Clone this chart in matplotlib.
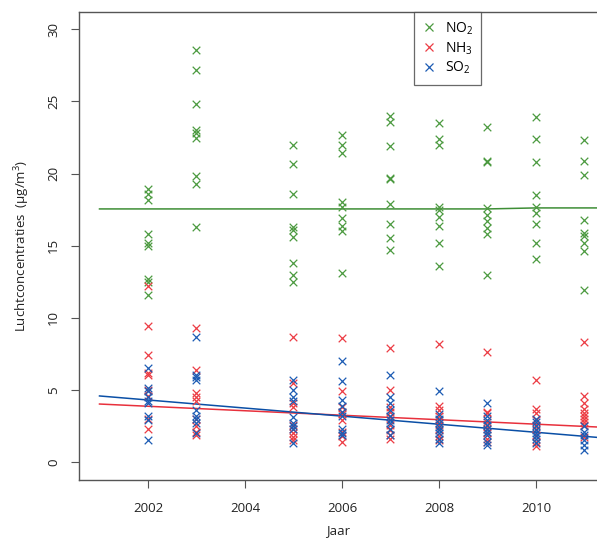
import matplotlib
matplotlib.use("Agg")
import matplotlib.pyplot as plt
from matplotlib.lines import Line2D

plt.rcParams['font.family'] = ['Open Sans', 'DejaVu Sans']
plt.rcParams['mathtext.fontset'] = 'custom'
plt.rcParams['mathtext.rm'] = 'Open Sans'
plt.rcParams['mathtext.it'] = 'Open Sans:italic'

years = [2002, 2003, 2005, 2006, 2007, 2008, 2009, 2010, 2011]

no2 = [
    [18.9, 18.6, 18.2, 15.8, 15.2, 15.0, 12.7, 12.5, 11.6],
    [28.6, 27.2, 24.8, 23.0, 22.8, 22.5, 19.8, 19.3, 16.3],
    [22.0, 20.7, 18.6, 16.3, 16.1, 15.6, 13.8, 13.0, 12.5],
    [22.7, 22.0, 21.4, 18.0, 17.7, 16.9, 16.4, 16.0, 13.1],
    [24.0, 23.6, 21.9, 19.7, 19.6, 17.9, 16.5, 15.5, 14.7],
    [23.5, 22.4, 22.0, 17.7, 17.5, 17.0, 16.4, 15.2, 13.6],
    [23.2, 20.9, 20.8, 17.6, 17.1, 16.7, 16.2, 15.8, 13.0],
    [23.9, 22.4, 20.8, 18.5, 17.7, 17.3, 16.5, 15.2, 14.1],
    [22.3, 20.9, 19.9, 16.8, 15.9, 15.7, 15.2, 14.6, 11.9],
]
nh3 = [
    [12.2, 9.4, 7.4, 6.2, 6.0, 5.0, 4.6, 3.0, 2.3],
    [9.3, 6.4, 4.8, 4.5, 4.2, 3.0, 2.5, 2.1, 1.9],
    [8.7, 5.5, 4.1, 3.8, 2.6, 2.3, 2.0, 1.7, 1.5],
    [8.6, 4.9, 3.8, 3.5, 3.3, 2.9, 2.1, 1.8, 1.4],
    [7.9, 5.0, 3.8, 3.5, 3.1, 2.6, 2.2, 1.9, 1.6],
    [8.2, 3.9, 3.6, 3.2, 2.9, 2.6, 2.3, 1.8, 1.5],
    [7.6, 3.5, 3.4, 2.8, 2.5, 2.3, 2.0, 1.6, 1.4],
    [5.7, 3.7, 3.4, 2.9, 2.6, 2.3, 1.9, 1.4, 1.1],
    [8.3, 4.6, 4.1, 3.7, 3.4, 3.2, 3.0, 2.8, 2.6, 1.7],
]
so2 = [
    [6.5, 5.1, 4.9, 4.5, 4.2, 4.1, 3.2, 2.9, 1.5],
    [8.7, 6.0, 5.9, 5.7, 3.6, 3.2, 3.0, 2.7, 2.0],
    [5.7, 5.0, 4.5, 4.2, 3.1, 2.7, 2.5, 2.3, 1.3],
    [7.0, 5.6, 4.3, 3.9, 3.5, 3.2, 2.3, 2.0, 1.9],
    [6.0, 4.5, 4.1, 3.6, 3.2, 2.9, 2.7, 2.3, 1.9],
    [4.9, 3.3, 3.0, 2.7, 2.4, 2.2, 2.0, 1.6, 1.3],
    [4.1, 3.2, 2.9, 2.6, 2.3, 2.1, 1.9, 1.4, 1.2],
    [3.0, 2.8, 2.5, 2.2, 2.0, 1.8, 1.6, 1.3],
    [2.5, 2.1, 1.9, 1.5, 1.2, 0.8],
]

no2_fit_years = [2001, 2002, 2003, 2004, 2005, 2006, 2007, 2008, 2009, 2010, 2011.5]
no2_fit = [17.55, 17.55, 17.55, 17.55, 17.55, 17.55, 17.55, 17.55, 17.55, 17.62, 17.62]
trend_years = [2001, 2011.5]
nh3_trend = [4.02, 2.39]
so2_trend = [4.58, 1.64]

c_no2 = '#4c9a40'
c_nh3 = '#ec3c44'
c_so2 = '#1d5cb4'
l_no2 = '#3e8e36'
l_nh3 = '#e8303c'
l_so2 = '#0a4fa6'

W, H = 597, 540
fig = plt.figure(figsize=(W / 100, H / 100), dpi=100)
ax = fig.add_axes([79 / W, 60 / H, (W - 79) / W, 468 / H])

def expand(vals):
    xs, ys = [], []
    for yr, v in zip(years, vals):
        xs += [yr] * len(v)
        ys += v
    return xs, ys

for data, col in [(no2, c_no2), (nh3, c_nh3), (so2, c_so2)]:
    xs, ys = expand(data)
    ax.scatter(xs, ys, marker='x', s=30, c=col, linewidths=0.9, zorder=3)

ax.plot(no2_fit_years, no2_fit, color=l_no2, lw=1.1, zorder=2)
ax.plot(trend_years, nh3_trend, color=l_nh3, lw=1.1, zorder=2)
ax.plot(trend_years, so2_trend, color=l_so2, lw=1.1, zorder=2)

ax.set_xlim(2002 - 69 / 48.5, 2002 + 449 / 48.5)
ax.set_ylim(-18 / 14.42, 450 / 14.42)
ax.set_xticks([2002, 2004, 2006, 2008, 2010])
ax.set_yticks([0, 5, 10, 15, 20, 25, 30])
ax.tick_params(axis='both', direction='out', length=5.5, width=0.8, color='#555555',
               labelsize=9.5, labelcolor='#222222')
ax.tick_params(axis='x', pad=10)
ax.tick_params(axis='y', pad=8)
for lab in ax.get_yticklabels():
    lab.set_rotation(90)
    lab.set_va('center')
ax.spines['right'].set_visible(False)
for s in ['left', 'top', 'bottom']:
    ax.spines[s].set_color('#555555')
    ax.spines[s].set_linewidth(1.0)

ax.set_xlabel('Jaar', fontsize=9.5, color='#222222', labelpad=7)
ax.set_ylabel('Luchtconcentraties  (µg/m$^3$)', fontsize=9.5, color='#222222', labelpad=11)

handles = [Line2D([], [], marker='x', ls='none', color=c, markersize=6, mew=0.9)
           for c in (c_no2, c_nh3, c_so2)]
leg = ax.legend(handles, ['NO$_2$', 'NH$_3$', 'SO$_2$'], loc='upper left',
                bbox_to_anchor=((414 - 79) / (W - 79), 1.0), fontsize=10,
                frameon=True, fancybox=False, edgecolor='#444444',
                handlelength=1.0, handletextpad=0.6, labelspacing=0.25,
                borderpad=0.6, borderaxespad=0)
leg.get_frame().set_linewidth(0.9)

fig.savefig('out.png', dpi=100)
